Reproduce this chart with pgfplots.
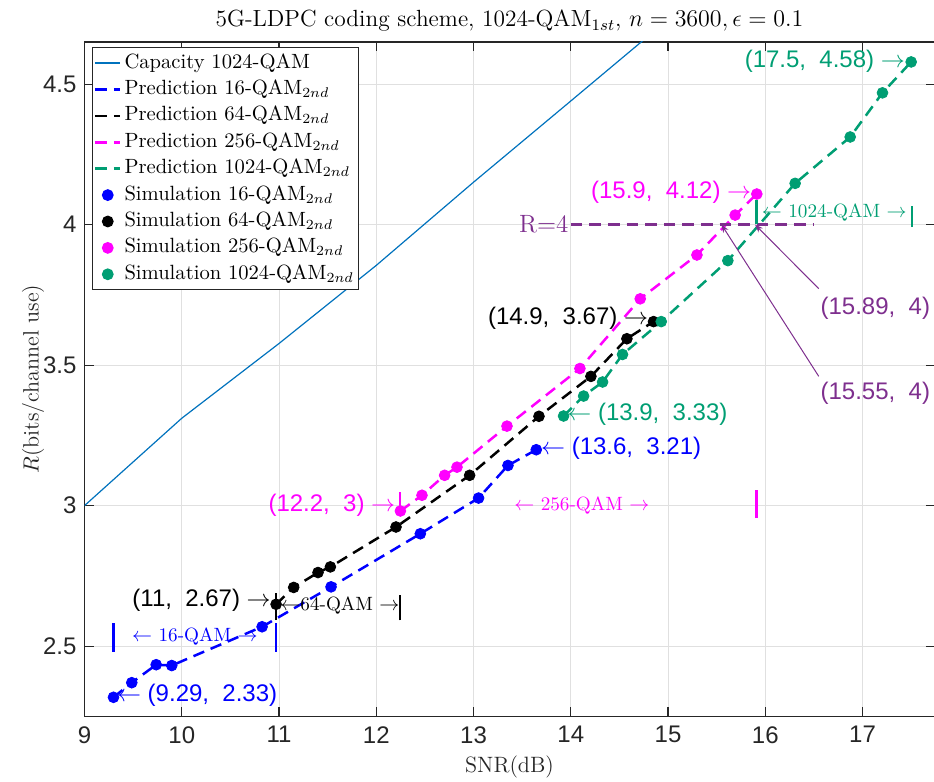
\documentclass[border=0pt]{standalone}
\usepackage{pgfplots}
\pgfplotsset{compat=1.18}
\usepackage{pgfplotstable}
\usepackage{fontspec}
\newfontfamily\arial{Liberation Sans}
\usetikzlibrary{calc,arrows.meta}
\definecolor{capblue}{rgb}{0,0.447,0.741}
\definecolor{mgreen}{rgb}{0,0.62,0.45}
\definecolor{mpurple}{rgb}{0.494,0.184,0.556}
\definecolor{mmag}{rgb}{1,0,1}
\definecolor{axgray}{rgb}{0.15,0.15,0.15}
\definecolor{gridgray}{rgb}{0.88,0.88,0.88}
\newcommand{\af}{\arial\fontsize{12}{14}\selectfont}
\newcommand{\sa}{\fontsize{9.6}{11}\selectfont}

\pgfplotstableread{
x y
9.298 2.318
9.486 2.370
9.737 2.434
9.897 2.431
10.826 2.569
11.535 2.711
12.453 2.900
13.052 3.027
13.354 3.143
13.645 3.199
}\qamA
\pgfplotstableread{
x y
10.970 2.649
11.151 2.709
11.401 2.762
11.528 2.782
12.203 2.924
12.960 3.108
13.673 3.318
14.207 3.460
14.577 3.594
14.851 3.655
}\qamB
\pgfplotstableread{
x y
12.248 2.981
12.470 3.037
12.703 3.108
12.830 3.137
13.344 3.283
14.094 3.488
14.714 3.736
15.297 3.892
15.690 4.034
15.913 4.109
}\qamC
\pgfplotstableread{
x y
13.926 3.319
14.132 3.390
14.327 3.440
14.532 3.538
14.930 3.655
15.615 3.872
16.307 4.147
16.873 4.312
17.205 4.469
17.500 4.579
}\qamD

\begin{document}
\begin{tikzpicture}
\begin{axis}[
  name=ax,
  scale only axis,
  width=425pt, height=337.2pt,
  xmin=9, xmax=17.74, ymin=2.25, ymax=4.65,
  xtick={9,10,...,17},
  ytick={2.5,3,3.5,4,4.5},
  grid=major,
  major grid style={gridgray, line width=0.5pt},
  axis line style={axgray, line width=0.6pt},
  tick style={axgray, line width=0.6pt},
  tick align=inside,
  xtick pos=both, ytick pos=both,
  major tick length=4.5pt,
  ticklabel style={font=\af, text=axgray},
  /pgf/number format/assume math mode=true,
  xticklabel style={yshift=-1.5pt},
  yticklabel style={xshift=-0.5pt},
  xlabel={SNR(dB)},
  ylabel={$R$(bits/channel use)},
  label style={font=\fontsize{11.1}{13}\selectfont, text=axgray},
  xlabel style={at={(axis description cs:0.5,-0.0756)}, anchor=center},
  ylabel style={at={(axis description cs:-0.0606,0.5)}, anchor=center, rotate=0},
  title={5G-LDPC coding scheme, 1024-QAM$_{1st}$, $n=3600, \epsilon=0.1$},
  every axis title/.style={font=\fontsize{11.7}{14}\selectfont, at={(axis description cs:0.5,1)}, anchor=base, yshift=7.5pt},
  legend style={at={(0.00825,0.992)}, anchor=north west, draw=axgray, line width=0.5pt, fill=white,
    font=\fontsize{10.3}{12}\selectfont, inner sep=1pt, row sep=0pt,
    nodes={inner sep=1.5pt, text height=7.6pt, text depth=2.6pt}},
  legend cell align=left,
  legend image code/.code={\draw[mark repeat=2,mark phase=2,#1] plot coordinates {(0pt,0pt) (6.25pt,0pt) (12.5pt,0pt)};},
]
\addplot[capblue, line width=0.6pt] coordinates {(9,3.0)(10,3.311)(11,3.577)(12,3.855)(13,4.151)(14,4.44)(15,4.73)};
\addlegendentry{Capacity 1024-QAM}
\addplot[blue, line width=1.25pt, dash pattern=on 5.8pt off 3.5pt] table {\qamA};
\addlegendentry{Prediction 16-QAM$_{2nd}$}
\addplot[black, line width=1.25pt, dash pattern=on 5.8pt off 3.5pt] table {\qamB};
\addlegendentry{Prediction 64-QAM$_{2nd}$}
\addplot[mmag, line width=1.25pt, dash pattern=on 5.8pt off 3.5pt] table {\qamC};
\addlegendentry{Prediction 256-QAM$_{2nd}$}
\addplot[mgreen, line width=1.25pt, dash pattern=on 5.8pt off 3.5pt] table {\qamD};
\addlegendentry{Prediction 1024-QAM$_{2nd}$}
\addplot[only marks, mark=*, mark size=2.7pt, blue] table {\qamA};
\addlegendentry{Simulation 16-QAM$_{2nd}$}
\addplot[only marks, mark=*, mark size=2.7pt, black] table {\qamB};
\addlegendentry{Simulation 64-QAM$_{2nd}$}
\addplot[only marks, mark=*, mark size=2.7pt, mmag] table {\qamC};
\addlegendentry{Simulation 256-QAM$_{2nd}$}
\addplot[only marks, mark=*, mark size=2.7pt, mgreen] table {\qamD};
\addlegendentry{Simulation 1024-QAM$_{2nd}$}

% R = 4 reference line
\addplot[forget plot, mpurple, line width=1.25pt, dash pattern=on 5.8pt off 3.5pt] coordinates {(14.0,4.0)(16.5,4.0)};
\node[anchor=east, text=mpurple, font=\fontsize{12.5}{14}\selectfont, inner sep=1pt] at (14.0,4.0) {R=4};

% range bars
\draw[blue, line width=1.3pt] (9.298,2.48) -- (9.298,2.582);
\draw[blue, line width=1.3pt] (10.97,2.48) -- (10.97,2.582);
\node[text=blue, font=\sa] at (10.135,2.533) {$\leftarrow$ 16-QAM $\rightarrow$};
\draw[black, line width=1.3pt] (10.97,2.593) -- (10.97,2.69);
\draw[black, line width=1.3pt] (12.245,2.592) -- (12.245,2.681);
\node[anchor=west, text=black, font=\sa, inner sep=0.5pt] at (11.0,2.646) {$\leftarrow$64-QAM $\rightarrow$};
\draw[mmag, line width=1.3pt] (12.245,2.973) -- (12.245,3.05);
\draw[mmag, line width=1.3pt] (15.91,2.956) -- (15.91,3.055);
\node[text=mmag, font=\sa] at (14.114,3.0) {$\leftarrow$ 256-QAM $\rightarrow$};
\draw[mgreen, line width=1.3pt] (15.91,4.003) -- (15.91,4.086);
\draw[mgreen, line width=1.3pt] (17.51,3.991) -- (17.51,4.068);
\node[text=mgreen, font=\sa] at (16.709,4.043) {$\leftarrow$ 1024-QAM $\rightarrow$};

% point labels
\node[anchor=east, text=mgreen, font=\af, inner sep=1.5pt] at (17.47,4.58) {(17.5,\ \ 4.58)\ $\rightarrow$};
\node[anchor=east, text=mmag, font=\af, inner sep=1.5pt] at (15.89,4.115) {(15.9,\ \ 4.12)\ $\rightarrow$};
\node[anchor=east, text=black, font=\af, inner sep=1.5pt] at (14.83,3.665) {(14.9,\ \ 3.67)\ $\rightarrow$};
\node[anchor=west, text=mgreen, font=\af, inner sep=1.5pt] at (13.93,3.325) {$\leftarrow$\ (13.9,\ \ 3.33)};
\node[anchor=west, text=blue, font=\af, inner sep=1.5pt] at (13.66,3.205) {$\leftarrow$\ (13.6,\ \ 3.21)};
\node[anchor=east, text=mmag, font=\af, inner sep=1.5pt] at (12.23,3.0) {(12.2,\ \ 3)\ $\rightarrow$};
\node[anchor=east, text=black, font=\af, inner sep=1.5pt] at (10.95,2.665) {(11,\ \ 2.67)\ $\rightarrow$};
\node[anchor=west, text=blue, font=\af, inner sep=1.5pt] at (9.30,2.326) {$\leftarrow$\ (9.29,\ \ 2.33)};

% arrows to R=4 crossings
\draw[mpurple, line width=0.5pt, -{Stealth[length=4pt, width=3pt]}] (16.55,3.772) -- (15.895,4.0);
\draw[mpurple, line width=0.5pt, -{Stealth[length=4pt, width=3pt]}] (16.55,3.46) -- (15.55,4.0);
\node[anchor=west, text=mpurple, font=\af, inner sep=0pt] at (16.565,3.702) {(15.89,\ \ 4)};
\node[anchor=west, text=mpurple, font=\af, inner sep=0pt] at (16.565,3.40) {(15.55,\ \ 4)};
\end{axis}
\pgfresetboundingbox
\path ($(ax.south west)+(-42.25pt,-32.3pt)$) rectangle ($(ax.north east)+(-0.25pt,21pt)$);
\end{tikzpicture}
\end{document}
